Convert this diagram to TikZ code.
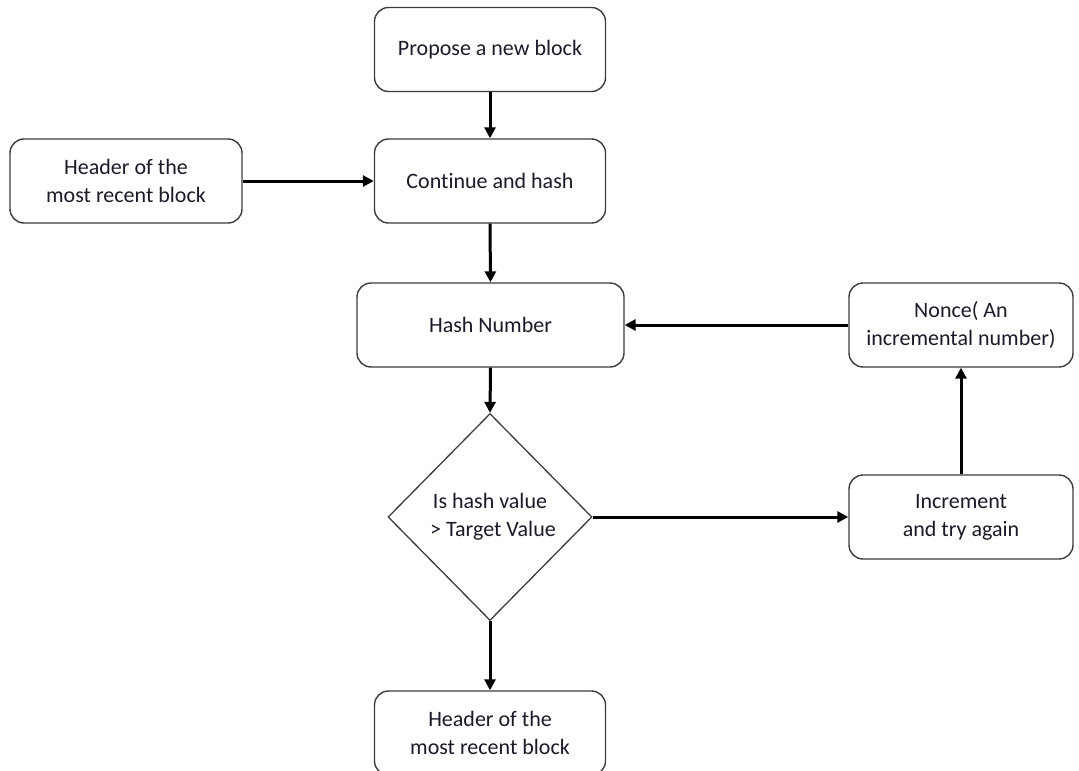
\documentclass[tikz,border=0pt]{standalone}
\usepackage{fontspec}
\setmainfont{Carlito}[Ligatures={NoCommon}]
\usetikzlibrary{shapes.geometric,arrows.meta}
\definecolor{boxline}{HTML}{3C3C3C}
\definecolor{labeltext}{HTML}{1A1A28}
\begin{document}
\begin{tikzpicture}[x=1pt,y=-1pt,
  every node/.style={font=\fontsize{22}{28}\selectfont, text=labeltext, align=center, inner sep=0pt},
  stepbox/.style={draw=boxline, line width=1.4pt, rounded corners=14pt, minimum height=84pt},
  decision/.style={draw=boxline, line width=1.3pt, diamond, minimum width=204pt, minimum height=207pt},
  flow/.style={line width=3pt, draw=black, -{Triangle[length=11pt,width=11pt]}}
]
\useasboundingbox (0,0) rectangle (1079,771);
\clip (0,0) rectangle (1079,771);

% boxes of the mining loop
\node[stepbox, minimum width=231pt] (propose) at (490,49.5) {Propose a new block};
\node[stepbox, minimum width=231pt] (cont) at (490,181) {Continue and hash};
\node[stepbox, minimum width=232pt] (hdr) at (126,181) {Header of the\\most recent block};
\node[stepbox, minimum width=267pt] (hashn) at (490.5,325) {Hash Number};
\node[stepbox, minimum width=224pt] (nonce) at (961,325) {Nonce( An\\incremental number)};
\node[decision] (dec) at (490,517) {Is hash value\\\hspace*{6pt}> Target Value};
\node[stepbox, minimum width=224pt] (inc) at (961,517) {Increment\\and try again};
\node[stepbox, minimum width=231pt] (hdr2) at (490,733) {Header of the\\most recent block};

% connectors
\draw[flow] (propose.south) -- (cont.north);
\draw[flow] (hdr.east) -- (cont.west);
\draw[flow] (cont.south) -- (hashn.north);
\draw[flow] (hashn.south) -- (dec.north);
\draw[flow] (dec.east) -- (inc.west);
\draw[flow] (inc.north) -- (nonce.south);
\draw[flow] (nonce.west) -- (hashn.east);
\draw[flow] (dec.south) -- (hdr2.north);
\end{tikzpicture}
\end{document}
